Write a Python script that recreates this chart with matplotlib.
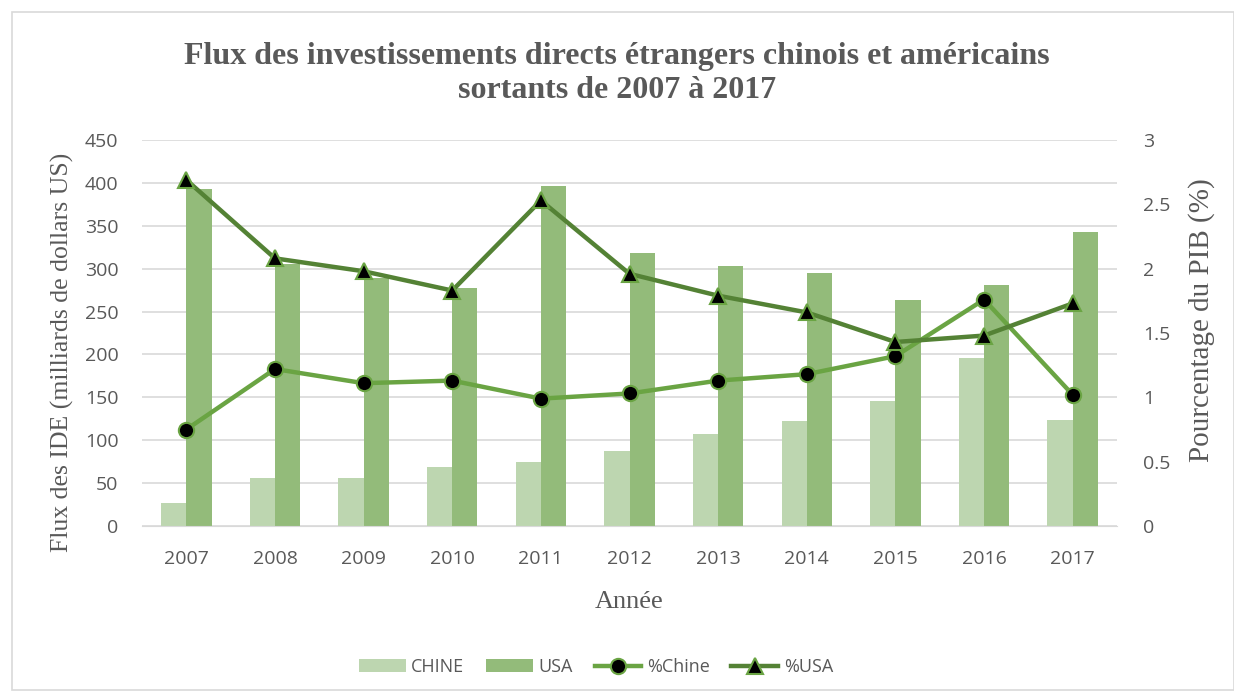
import numpy as np
import matplotlib.pyplot as plt
from matplotlib.patches import Rectangle

annees = ["2007", "2008", "2009", "2010", "2011", "2012", "2013", "2014", "2015", "2016", "2017"]
chine = [26.5, 55.5, 56.5, 68.5, 74.5, 88, 107.5, 122.5, 145.5, 196, 124]
usa = [393, 306, 289, 278, 396, 318, 303, 295, 263, 281, 343]
pct_chine = [0.75, 1.22, 1.11, 1.13, 0.99, 1.03, 1.13, 1.18, 1.32, 1.76, 1.02]
pct_usa = [2.69, 2.08, 1.98, 1.83, 2.53, 1.96, 1.79, 1.66, 1.43, 1.48, 1.73]

gris = "#595959"
serif = ["Liberation Serif", "DejaVu Serif"]
sans = ["Open Sans", "DejaVu Sans"]

fig = plt.figure(figsize=(12.34, 6.99), dpi=100)
fig.patches.append(Rectangle((12 / 1234, 9 / 699), 1 - 12 / 1234, 1 - 21 / 699,
                             transform=fig.transFigure, fill=False,
                             edgecolor="#D9D9D9", linewidth=1.2))

ax = fig.add_axes([142 / 1234, 173 / 699, 975 / 1234, 386 / 699])
ax2 = ax.twinx()

x = np.arange(len(annees))
w = 0.285
b1 = ax.bar(x - w / 2, chine, w, color="#BDD6B0", label="CHINE", zorder=2)
b2 = ax.bar(x + w / 2, usa, w, color="#93BB7A", label="USA", zorder=2)

l1, = ax2.plot(x, pct_chine, color="#6AA443", lw=3.2, marker="o", ms=11,
               mfc="black", mec="#6AA443", mew=1.5, label="%Chine")
l2, = ax2.plot(x, pct_usa, color="#548235", lw=3.2, marker="^", ms=12,
               mfc="black", mec="#6AA443", mew=1.5, label="%USA")

ax.set_xlim(-0.5, len(annees) - 0.5)
ax.set_ylim(0, 450)
ax.set_yticks(range(0, 451, 50))
ax2.set_ylim(0, 3)
ax2.set_yticks([0, 0.5, 1, 1.5, 2, 2.5, 3])
ax2.set_yticklabels(["0", "0.5", "1", "1.5", "2", "2.5", "3"])
ax.set_xticks(x)
ax.set_xticklabels(annees)

ax.grid(axis="y", color="#D9D9D9", lw=1.2, zorder=0)
ax.set_axisbelow(True)
for a in (ax, ax2):
    for s in a.spines.values():
        s.set_visible(False)
    a.tick_params(length=0, colors=gris, labelsize=14)
    for t in a.get_xticklabels() + a.get_yticklabels():
        t.set_fontfamily(sans)
ax.spines["bottom"].set_visible(True)
ax.spines["bottom"].set_color("#D9D9D9")
ax.tick_params(axis="x", pad=17)
ax.tick_params(axis="y", pad=17)
ax2.tick_params(axis="y", pad=18.5)

ax.set_xlabel("Année", fontsize=19, color=gris, family=serif, labelpad=17)
ax.set_ylabel("Flux des IDE (milliards de dollars US)", fontsize=18.5, color=gris,
              family=serif)
ax.yaxis.set_label_coords(-68 / 975, (526 - 352) / 386)
ax2.set_ylabel("Pourcentage du PIB (%)", fontsize=21, color=gris, family=serif)
ax2.yaxis.set_label_coords(1 + 71 / 975, (526 - 320) / 386)

fig.text(0.5, 0.895, "Flux des investissements directs étrangers chinois et américains\nsortants de 2007 à 2017",
         ha="center", va="center", fontsize=23, fontweight="bold", color=gris,
         family=serif, linespacing=1.2)

fig.legend([b1, b2, l1, l2], ["CHINE", "USA", "%Chine", "%USA"],
           loc="center", bbox_to_anchor=(0.483, 0.046), ncol=4, frameon=False,
           prop={"family": sans, "size": 13}, labelcolor=gris,
           handlelength=2.6, handletextpad=0.3, columnspacing=1.2)

fig.savefig("out.png", dpi=100)
